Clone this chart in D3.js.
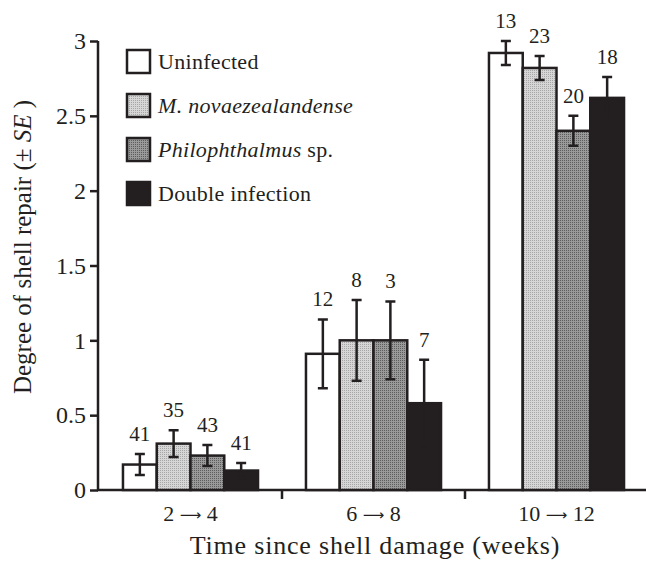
<!DOCTYPE html>
<html>
<head>
<meta charset="utf-8">
<script src="https://cdn.jsdelivr.net/npm/d3@7"></script>
<style>
  body { margin: 0; background: #fff; }
  svg text { font-family: "Liberation Serif", "Times New Roman", serif; fill: #231f20; }
</style>
</head>
<body>
<div id="chart"></div>
<script>
const categories = ["2 \u2192 4", "6 \u2192 8", "10 \u2192 12"];
const seriesNames = ["Uninfected", "M. novaezealandense", "Philophthalmus sp.", "Double infection"];

const uninfected = [0.17, 0.91, 2.92];
const novae = [0.31, 1.00, 2.82];
const philo = [0.23, 1.00, 2.40];
const double = [0.13, 0.58, 2.62];

const uninfectedSE = [0.07, 0.23, 0.08];
const novaeSE = [0.09, 0.27, 0.08];
const philoSE = [0.07, 0.26, 0.10];
const doubleSE = [0.05, 0.29, 0.14];

const uninfectedN = [41, 12, 13];
const novaeN = [35, 8, 23];
const philoN = [43, 3, 20];
const doubleN = [41, 7, 18];

const yTicks = [0, 0.5, 1, 1.5, 2, 2.5, 3];

const width = 646, height = 564;
const ink = "#231f20";

const series = [
    { name: seriesNames[0], mean: uninfected, se: uninfectedSE, n: uninfectedN, fill: "#ffffff" },
    { name: seriesNames[1], mean: novae, se: novaeSE, n: novaeN, fill: "url(#light)" },
    { name: seriesNames[2], mean: philo, se: philoSE, n: philoN, fill: "url(#dark)" },
    { name: seriesNames[3], mean: double, se: doubleSE, n: doubleN, fill: ink }
];

const svg = d3.select("#chart").append("svg")
    .attr("width", width)
    .attr("height", height);

// fine dot screens for the two grey bars
const defs = svg.append("defs");
function screen(id, base, dot) {
    const p = defs.append("pattern")
        .attr("id", id)
        .attr("width", 2).attr("height", 2)
        .attr("patternUnits", "userSpaceOnUse");
    p.append("rect").attr("width", 2).attr("height", 2).attr("fill", base);
    p.append("rect").attr("width", 1).attr("height", 1).attr("fill", dot);
}
screen("light", "#d6d6d6", "#a6a6a6");
screen("dark", "#9a9a9a", "#5c5c5c");

const x0 = d3.scaleBand()
    .domain(categories)
    .range([99, 648]);

const x1 = d3.scaleBand()
    .domain(seriesNames)
    .range([0, x0.bandwidth()])
    .paddingOuter(0.71);

const y = d3.scaleLinear()
    .domain([0, 3])
    .range([490, 41]);

// y axis
const yAxis = svg.append("g")
    .attr("transform", "translate(98,0)")
    .call(d3.axisLeft(y).tickValues(yTicks).tickFormat(d3.format("")).tickSize(8).tickPadding(4));
yAxis.select(".domain").attr("stroke", ink).attr("stroke-width", 2.5).attr("d", "M0," + y(3) + "V" + y(0));
yAxis.selectAll(".tick line").attr("stroke", ink).attr("stroke-width", 2.5);
yAxis.selectAll(".tick text").style("font-size", "24px").attr("fill", ink);

// x axis
const xAxis = svg.append("g")
    .attr("transform", "translate(0,490)")
    .call(d3.axisBottom(x0).tickSize(0).tickPadding(0));
xAxis.select(".domain").attr("stroke", ink).attr("stroke-width", 2.5).attr("d", "M97,0H648");
xAxis.selectAll(".tick text")
    .style("font-size", "22px")
    .attr("dy", "31px")
    .attr("fill", ink)
    .each(function (d) {
        const parts = d.split("\u2192");
        const t = d3.select(this).text(null);
        t.append("tspan").text(parts[0]);
        t.append("tspan").style("font-family", "DejaVu Sans").style("font-size", "15px")
            .attr("dy", "-1").text("\u27f6");
        t.append("tspan").attr("dy", "1").text(parts[1]);
    });
xAxis.selectAll(".sep")
    .data(categories.slice(1))
    .enter()
    .append("line")
    .attr("x1", d => x0(d))
    .attr("x2", d => x0(d))
    .attr("y1", 0)
    .attr("y2", 9)
    .attr("stroke", ink)
    .attr("stroke-width", 2.5);

// bars
const groups = svg.append("g")
    .selectAll("g")
    .data(series)
    .enter()
    .append("g");

groups.selectAll("rect")
    .data(s => categories.map((c, i) => ({ c, s, v: s.mean[i], se: s.se[i], n: s.n[i] })))
    .enter()
    .append("rect")
    .attr("x", d => x0(d.c) + x1(d.s.name))
    .attr("y", d => y(d.v))
    .attr("width", x1.bandwidth())
    .attr("height", d => y(0) - y(d.v))
    .attr("fill", d => d.s.fill)
    .attr("stroke", ink)
    .attr("stroke-width", 2.5);

// error bars and sample sizes
const errs = svg.append("g")
    .selectAll("g")
    .data(series.flatMap(s => categories.map((c, i) => ({ c, s, v: s.mean[i], se: s.se[i], n: s.n[i] }))))
    .enter()
    .append("g")
    .attr("transform", d => "translate(" + (x0(d.c) + x1(d.s.name) + x1.bandwidth() / 2) + ",0)");

errs.append("path")
    .attr("d", d => "M0," + y(d.v + d.se) + "V" + y(d.v - d.se) +
        "M-5," + y(d.v + d.se) + "H5M-5," + y(d.v - d.se) + "H5")
    .attr("stroke", ink)
    .attr("stroke-width", 2.5)
    .attr("fill", "none");

errs.append("text")
    .attr("y", d => y(d.v + d.se) - 13)
    .attr("text-anchor", "middle")
    .style("font-size", "21px")
    .text(d => d.n);

// legend
const legend = svg.append("g")
    .selectAll("g")
    .data(series)
    .enter()
    .append("g")
    .attr("transform", (d, i) => "translate(127," + (50 + i * 44) + ")");

legend.append("rect")
    .attr("width", 23)
    .attr("height", 23)
    .attr("fill", d => d.fill)
    .attr("stroke", ink)
    .attr("stroke-width", 2.5);

const lt = legend.append("text")
    .attr("x", 31)
    .attr("y", 19)
    .style("font-size", "22px")
    .style("letter-spacing", "0.3px");
lt.each(function (d) {
    const t = d3.select(this);
    if (d.name === "M. novaezealandense") {
        t.append("tspan").style("font-style", "italic").text(d.name);
    } else if (d.name === "Philophthalmus sp.") {
        t.append("tspan").style("font-style", "italic").text("Philophthalmus");
        t.append("tspan").text(" sp.");
    } else {
        t.text(d.name);
    }
});

// axis titles
svg.append("text")
    .attr("x", 375)
    .attr("y", 554)
    .attr("text-anchor", "middle")
    .style("font-size", "26px")
    .style("letter-spacing", "0.8px")
    .text("Time since shell damage (weeks)");

const yt = svg.append("text")
    .attr("transform", "translate(31,247) rotate(-90)")
    .attr("text-anchor", "middle")
    .style("font-size", "25px");
yt.append("tspan").text("Degree of shell repair (\u00b1 ");
yt.append("tspan").style("font-style", "italic").text("SE");
yt.append("tspan").text(" )");
</script>
</body>
</html>
